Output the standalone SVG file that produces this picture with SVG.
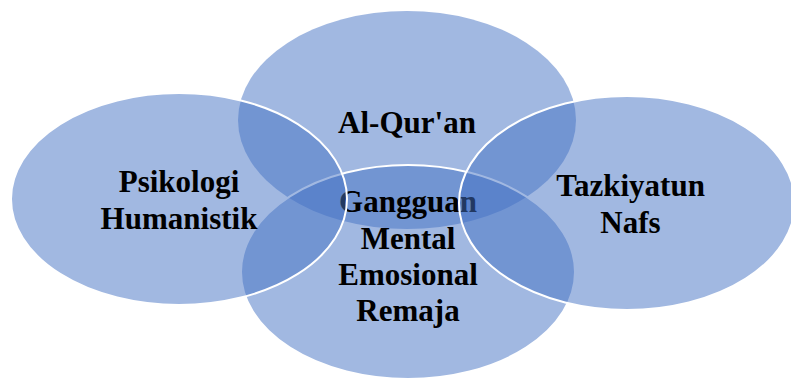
<svg xmlns="http://www.w3.org/2000/svg" width="791" height="380" viewBox="0 0 791 380">
<style>
.c{fill:#4472C4;fill-opacity:0.5;stroke:#ffffff;stroke-width:2}
.n{stroke:none}
.t{font-family:"Liberation Serif","Times New Roman",serif;font-weight:bold;font-size:31px;fill:#000000;text-anchor:middle}
</style>
<rect width="791" height="380" fill="#ffffff"/>
<g id="node-alquran">
<ellipse class="c n" cx="407" cy="120" rx="169" ry="109"/>
<text class="t" x="407" y="133">Al-Qur'an</text>
</g>
<g id="node-gangguan">
<ellipse class="c" cx="408" cy="272" rx="167" ry="107"/>
<text class="t" x="408" y="212">Gangguan</text>
<text class="t" x="408" y="248.5">Mental</text>
<text class="t" x="408" y="285">Emosional</text>
<text class="t" x="408" y="321">Remaja</text>
</g>
<g id="node-psikologi">
<ellipse class="c" cx="179" cy="199" rx="168" ry="106"/>
<text class="t" x="179" y="192">Psikologi</text>
<text class="t" x="179" y="228.5">Humanistik</text>
</g>
<g id="node-tazkiyatun">
<ellipse class="c" cx="627" cy="203" rx="168" ry="107"/>
<text class="t" x="630.5" y="196">Tazkiyatun</text>
<text class="t" x="630.5" y="232.5">Nafs</text>
</g>
<g id="connectors"/>
</svg>
